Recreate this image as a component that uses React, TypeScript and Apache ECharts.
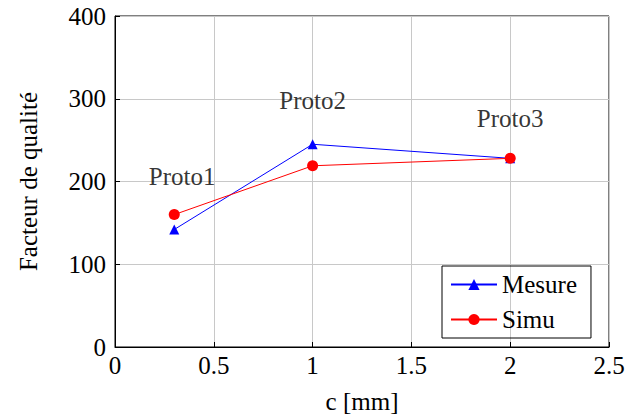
import React, { useEffect, useRef } from "react";
import * as echarts from "echarts";

const xValues = [0.3, 1, 2];
const mesure = [142, 245, 228];
const simu = [160, 219, 228];
const protoNames = ["Proto1", "Proto2", "Proto3"];
const protoX = [0.34, 1.0, 2.0];
const protoY = [206, 298, 276];

const FONT = "serif";
const FS = 25;

export default function App() {
  const ref = useRef<HTMLDivElement>(null);
  useEffect(() => {
    if (!ref.current) return;
    const chart = echarts.init(ref.current, null, { renderer: "svg" });
    const txt = { fontFamily: FONT, fontSize: FS, color: "#000" };
    chart.setOption({
      animation: false,
      grid: {
        left: 115,
        right: 19,
        top: 16,
        bottom: 68,
        show: true,
        borderColor: "#000",
        borderWidth: 1,
      },
      legend: {
        left: 442,
        top: 266,
        width: 152,
        orient: "vertical",
        borderColor: "#000",
        borderWidth: 1,
        padding: [6, 14, 6, 8],
        itemWidth: 46,
        itemHeight: 14,
        itemGap: 10,
        textStyle: { ...txt },
        data: ["Mesure", "Simu"],
      },
      xAxis: {
        type: "value",
        min: 0,
        max: 2.5,
        interval: 0.5,
        name: "c [mm]",
        nameLocation: "middle",
        nameGap: 42,
        nameTextStyle: { ...txt },
        axisLine: { show: true, lineStyle: { color: "#000" } },
        axisTick: { show: true, inside: true, length: 5, lineStyle: { color: "#000" } },
        axisLabel: { ...txt, margin: 6 },
        splitLine: { show: true, lineStyle: { color: "#c8c8c8" } },
      },
      yAxis: {
        type: "value",
        min: 0,
        max: 400,
        interval: 100,
        name: "Facteur de qualité",
        nameLocation: "middle",
        nameRotate: 90,
        nameGap: 74,
        nameTextStyle: { ...txt },
        axisLine: { show: true, lineStyle: { color: "#000" } },
        axisTick: { show: true, inside: true, length: 5, lineStyle: { color: "#000" } },
        axisLabel: { ...txt, margin: 9 },
        splitLine: { show: true, lineStyle: { color: "#c8c8c8" } },
      },
      series: [
        {
          name: "Mesure",
          type: "line",
          data: xValues.map((x, i) => [x, mesure[i]]),
          symbol: "triangle",
          symbolSize: 10,
          color: "#0000ff",
          lineStyle: { color: "#0000ff", width: 1 },
          itemStyle: { color: "#0000ff" },
        },
        {
          name: "Simu",
          type: "line",
          data: xValues.map((x, i) => [x, simu[i]]),
          symbol: "circle",
          symbolSize: 11,
          color: "#ff0000",
          lineStyle: { color: "#ff0000", width: 1 },
          itemStyle: { color: "#ff0000" },
        },
        {
          name: "labels",
          type: "scatter",
          symbolSize: 0,
          silent: true,
          data: protoNames.map((n, i) => ({ value: [protoX[i], protoY[i]], name: n })),
          label: {
            show: true,
            position: "inside",
            formatter: (p: any) => p.name,
            ...txt,
          },
        },
      ],
    });
    return () => chart.dispose();
  }, []);
  return (
    <>
      <style>{`.chart-root svg text { font-family: "Liberation Serif", serif !important; }`}</style>
      <div
        ref={ref}
        className="chart-root"
        style={{ width: 628, height: 419, position: "absolute", left: 0, top: 0 }}
      />
    </>
  );
}
